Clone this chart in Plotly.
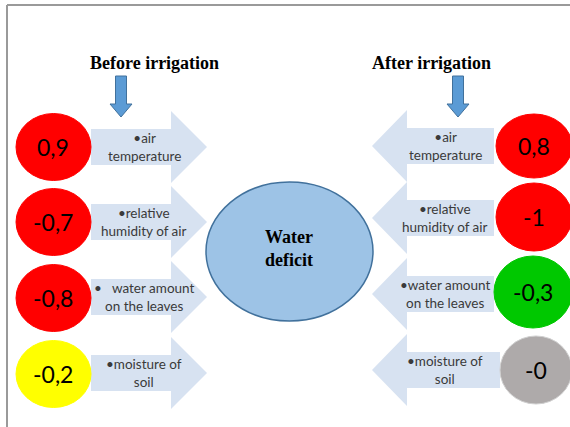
import plotly.graph_objects as go

# ---- data ----
factors = ["•air<br>temperature", "•relative<br>humidity of air",
           "•   water amount<br>on the leaves", "•moisture of<br>soil"]
factors_after = ["•air<br>temperature", "•relative<br>humidity of air",
                 "•water amount<br>on the leaves", "•moisture of<br>soil"]
before_values = ["0,9", "-0,7", "-0,8", "-0,2"]
after_values = ["0,8", "-1", "-0,3", "-0"]
before_colors = ["#FF0000", "#FF0000", "#FF0000", "#FFFF00"]
after_colors = ["#FF0000", "#FF0000", "#00C800", "#AEAAAA"]
titles = ["Before irrigation", "After irrigation"]
center_label = "Water<br>deficit"

W, H = 570, 427
fig = go.Figure()
shapes = []
ann = []

ARROW_FILL = "#D7E2F1"
TXT = "#3A3A3A"
SANS = "Lato, Open Sans, sans-serif"
SERIF = "Liberation Serif, Times New Roman, serif"

# frame
shapes.append(dict(type="line", x0=7, x1=W, y0=5, y1=5, line=dict(color="#9A9A9A", width=2)))
shapes.append(dict(type="line", x0=7, x1=7, y0=5, y1=H, line=dict(color="#9A9A9A", width=2)))

# left side
left_rows = [147, 222, 297, 373]
left_circ = [147, 222, 298, 374]
for i, (lab, val, col) in enumerate(zip(factors, before_values, before_colors)):
    cy = left_rows[i]
    path = (f"M 91 {cy-18} L 171 {cy-18} L 171 {cy-36} L 207 {cy} "
            f"L 171 {cy+36} L 171 {cy+18} L 91 {cy+18} Z")
    shapes.append(dict(type="path", path=path, fillcolor=ARROW_FILL, line=dict(width=0), layer="below"))
    cc = left_circ[i]
    shapes.append(dict(type="circle", x0=16, x1=91, y0=cc-33.5, y1=cc+33.5,
                       fillcolor=col, line=dict(color=col, width=1)))
    ann.append(dict(x=53, y=cc, text=val, showarrow=False,
                    font=dict(family=SANS, size=23, color="black")))
    ann.append(dict(x=144, y=cy, text=lab, showarrow=False,
                    font=dict(family=SANS, size=13.5, color=TXT)))

# right side
right_rows = [146, 218, 294, 370]
right_body_end = [494, 494, 494, 500]
right_circ = [(534, 146, 38, 32), (534, 217, 38, 34), (533, 292, 39, 36), (536, 370, 36, 34)]
for i, (lab, val, col) in enumerate(zip(factors_after, after_values, after_colors)):
    cy = right_rows[i]
    be = right_body_end[i]
    path = (f"M {be} {cy-18} L 407 {cy-18} L 407 {cy-36} L 372 {cy} "
            f"L 407 {cy+36} L 407 {cy+18} L {be} {cy+18} Z")
    shapes.append(dict(type="path", path=path, fillcolor=ARROW_FILL, line=dict(width=0), layer="below"))
    cx, cc, rx, ry = right_circ[i]
    shapes.append(dict(type="circle", x0=cx-rx, x1=cx+rx, y0=cc-ry, y1=cc+ry,
                       fillcolor=col, line=dict(color="#D0D0D0" if i == 3 else col, width=1)))
    ann.append(dict(x=cx, y=cc, text=val, showarrow=False,
                    font=dict(family=SANS, size=23, color="black")))
    ann.append(dict(x=445, y=cy, text=lab, showarrow=False,
                    font=dict(family=SANS, size=13.5, color=TXT)))

# center ellipse
shapes.append(dict(type="circle", x0=206, x1=373, y0=182, y1=321,
                   fillcolor="#9DC3E6", line=dict(color="#41719C", width=1.5)))
ann.append(dict(x=289, y=248, text=f"<b>{center_label}</b>", showarrow=False,
                font=dict(family=SERIF, size=18, color="black")))

# titles + small down arrows
for tx, ax, t in [(154, 121, titles[0]), (431, 458, titles[1])]:
    ann.append(dict(x=tx, y=63, text=f"<b>{t}</b>", showarrow=False,
                    font=dict(family=SERIF, size=18, color="black")))
    path = (f"M {ax-5.5} 76 L {ax+5.5} 76 L {ax+5.5} 104 L {ax+11} 104 L {ax} 117 "
            f"L {ax-11} 104 L {ax-5.5} 104 Z")
    shapes.append(dict(type="path", path=path, fillcolor="#5B9BD5", line=dict(color="#41719C", width=1)))

fig.update_layout(
    width=W, height=H, margin=dict(l=0, r=0, t=0, b=0),
    paper_bgcolor="white", plot_bgcolor="white",
    xaxis=dict(range=[0, W], visible=False, fixedrange=True),
    yaxis=dict(range=[H, 0], visible=False, fixedrange=True),
    shapes=shapes, annotations=ann, showlegend=False,
)
fig.write_html("out.html", config={"displayModeBar": False},
               post_script="document.body.style.margin='0';document.body.style.overflow='hidden';")
